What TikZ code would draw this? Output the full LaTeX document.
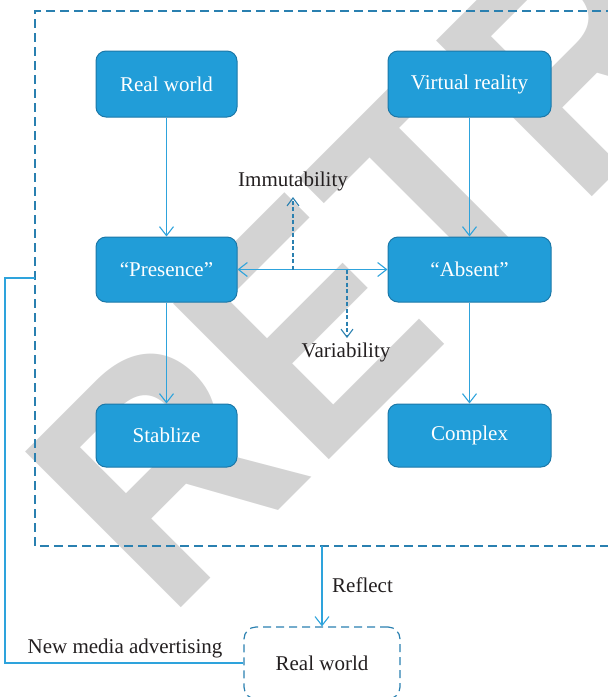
\documentclass[tikz,border=0pt]{standalone}
\usepackage{fontspec}
\setmainfont{Liberation Serif}
\newfontfamily\wmfont{Liberation Sans}
\usetikzlibrary{arrows.meta}
\definecolor{boxfill}{HTML}{219DD8}
\definecolor{boxline}{HTML}{1C78A8}
\definecolor{arrowblue}{HTML}{2EA3DC}
\definecolor{dashblue}{HTML}{2A80B0}
\definecolor{wmgray}{HTML}{D3D3D3}
\definecolor{txt}{HTML}{231F20}
\tikzset{
  bluebox/.style={draw=boxline, fill=boxfill, line width=1pt, rounded corners=10pt,
    text=white, font=\fontsize{21}{25}\selectfont, inner sep=0pt},
  conn/.style={draw=arrowblue, line width=1.2pt, -{Straight Barb[length=9pt,width=14pt,line width=1.1pt]}},
  dconn/.style={draw=dashblue, line width=1.2pt, dash pattern=on 4pt off 2.5pt,
    -{Straight Barb[length=8pt,width=12pt,line width=1.1pt]}},
  outerdash/.style={draw=dashblue, line width=1.2pt, dash pattern=on 9pt off 5pt},
  lbl/.style={text=txt, font=\fontsize{21}{25}\selectfont, inner sep=0pt},
}
\begin{document}
\begin{tikzpicture}[x=1pt,y=-1pt]
\useasboundingbox (0,0) rectangle (608,697);
% watermark
\node[anchor=base west, rotate=45, text=wmgray, inner sep=0pt,
  font=\wmfont\bfseries\fontsize{291}{291}\selectfont] (wm) at (167,622) {\scalebox{1}[1.1]{RETRACTED}};
% outer dashed frame
\coordinate (fTR) at (615,11);
\coordinate (fTL) at (35,11);
\coordinate (fBL) at (35,546);
\coordinate (fBR) at (615,546);
\draw[outerdash] (fTR) -- (fTL) -- (fBL) -- (fBR);
% boxes
\node[bluebox, minimum width=141pt, minimum height=66pt] (rw) at (166.5,84) {Real world};
\node[bluebox, minimum width=163pt, minimum height=66pt] (vr) at (469.5,84) {Virtual reality};
\node[bluebox, minimum width=141pt, minimum height=65pt] (pr) at (166.5,269.5) {“Presence”};
\node[bluebox, minimum width=163pt, minimum height=65pt] (ab) at (469.5,269.5) {“Absent”};
\node[bluebox, minimum width=141pt, minimum height=63pt] (st) at (166.5,435.5) {Stablize};
\node[bluebox, minimum width=163pt, minimum height=63pt] (cx) at (469.5,435.5) {Complex};
% vertical arrows
\draw[conn] (rw) -- (pr);
\draw[conn] (vr) -- (ab);
\draw[conn] (pr) -- (st);
\draw[conn] (ab) -- (cx);
% horizontal double arrow
\draw[conn, {Straight Barb[length=9pt,width=14pt,line width=1.1pt]}-{Straight Barb[length=9pt,width=14pt,line width=1.1pt]}] (pr) -- (ab);
% immutability / variability
\coordinate (im0) at (293,269.5);
\coordinate (va0) at (347,269.5);
\node[lbl] (im) at (293,181) {Immutability};
\node[lbl] (va) at (346,352) {Variability};
\draw[dconn] (im0) -- (293,197);
\draw[dconn] (va0) -- (347,338);
% bottom real world
\node[draw=dashblue, line width=1.2pt, dash pattern=on 8pt off 5pt, rounded corners=12pt,
  minimum width=156pt, minimum height=72pt, lbl, text=txt] (rw2) at (322,663) {Real world};
\coordinate (rf0) at (322,546);
\draw[conn] (rf0) -- (rw2.north);
\node[lbl, anchor=west] (rf) at (332,585) {Reflect};
% feedback line
\coordinate (c1) at (5,663);
\coordinate (c2) at (5,278);
\coordinate (c3) at (35,278);
\draw[draw=arrowblue, line width=1.2pt] (rw2.west) -- (c1) -- (c2) -- (c3);
\node[lbl] (nm) at (125,648) {New media advertising};
\end{tikzpicture}
\end{document}
